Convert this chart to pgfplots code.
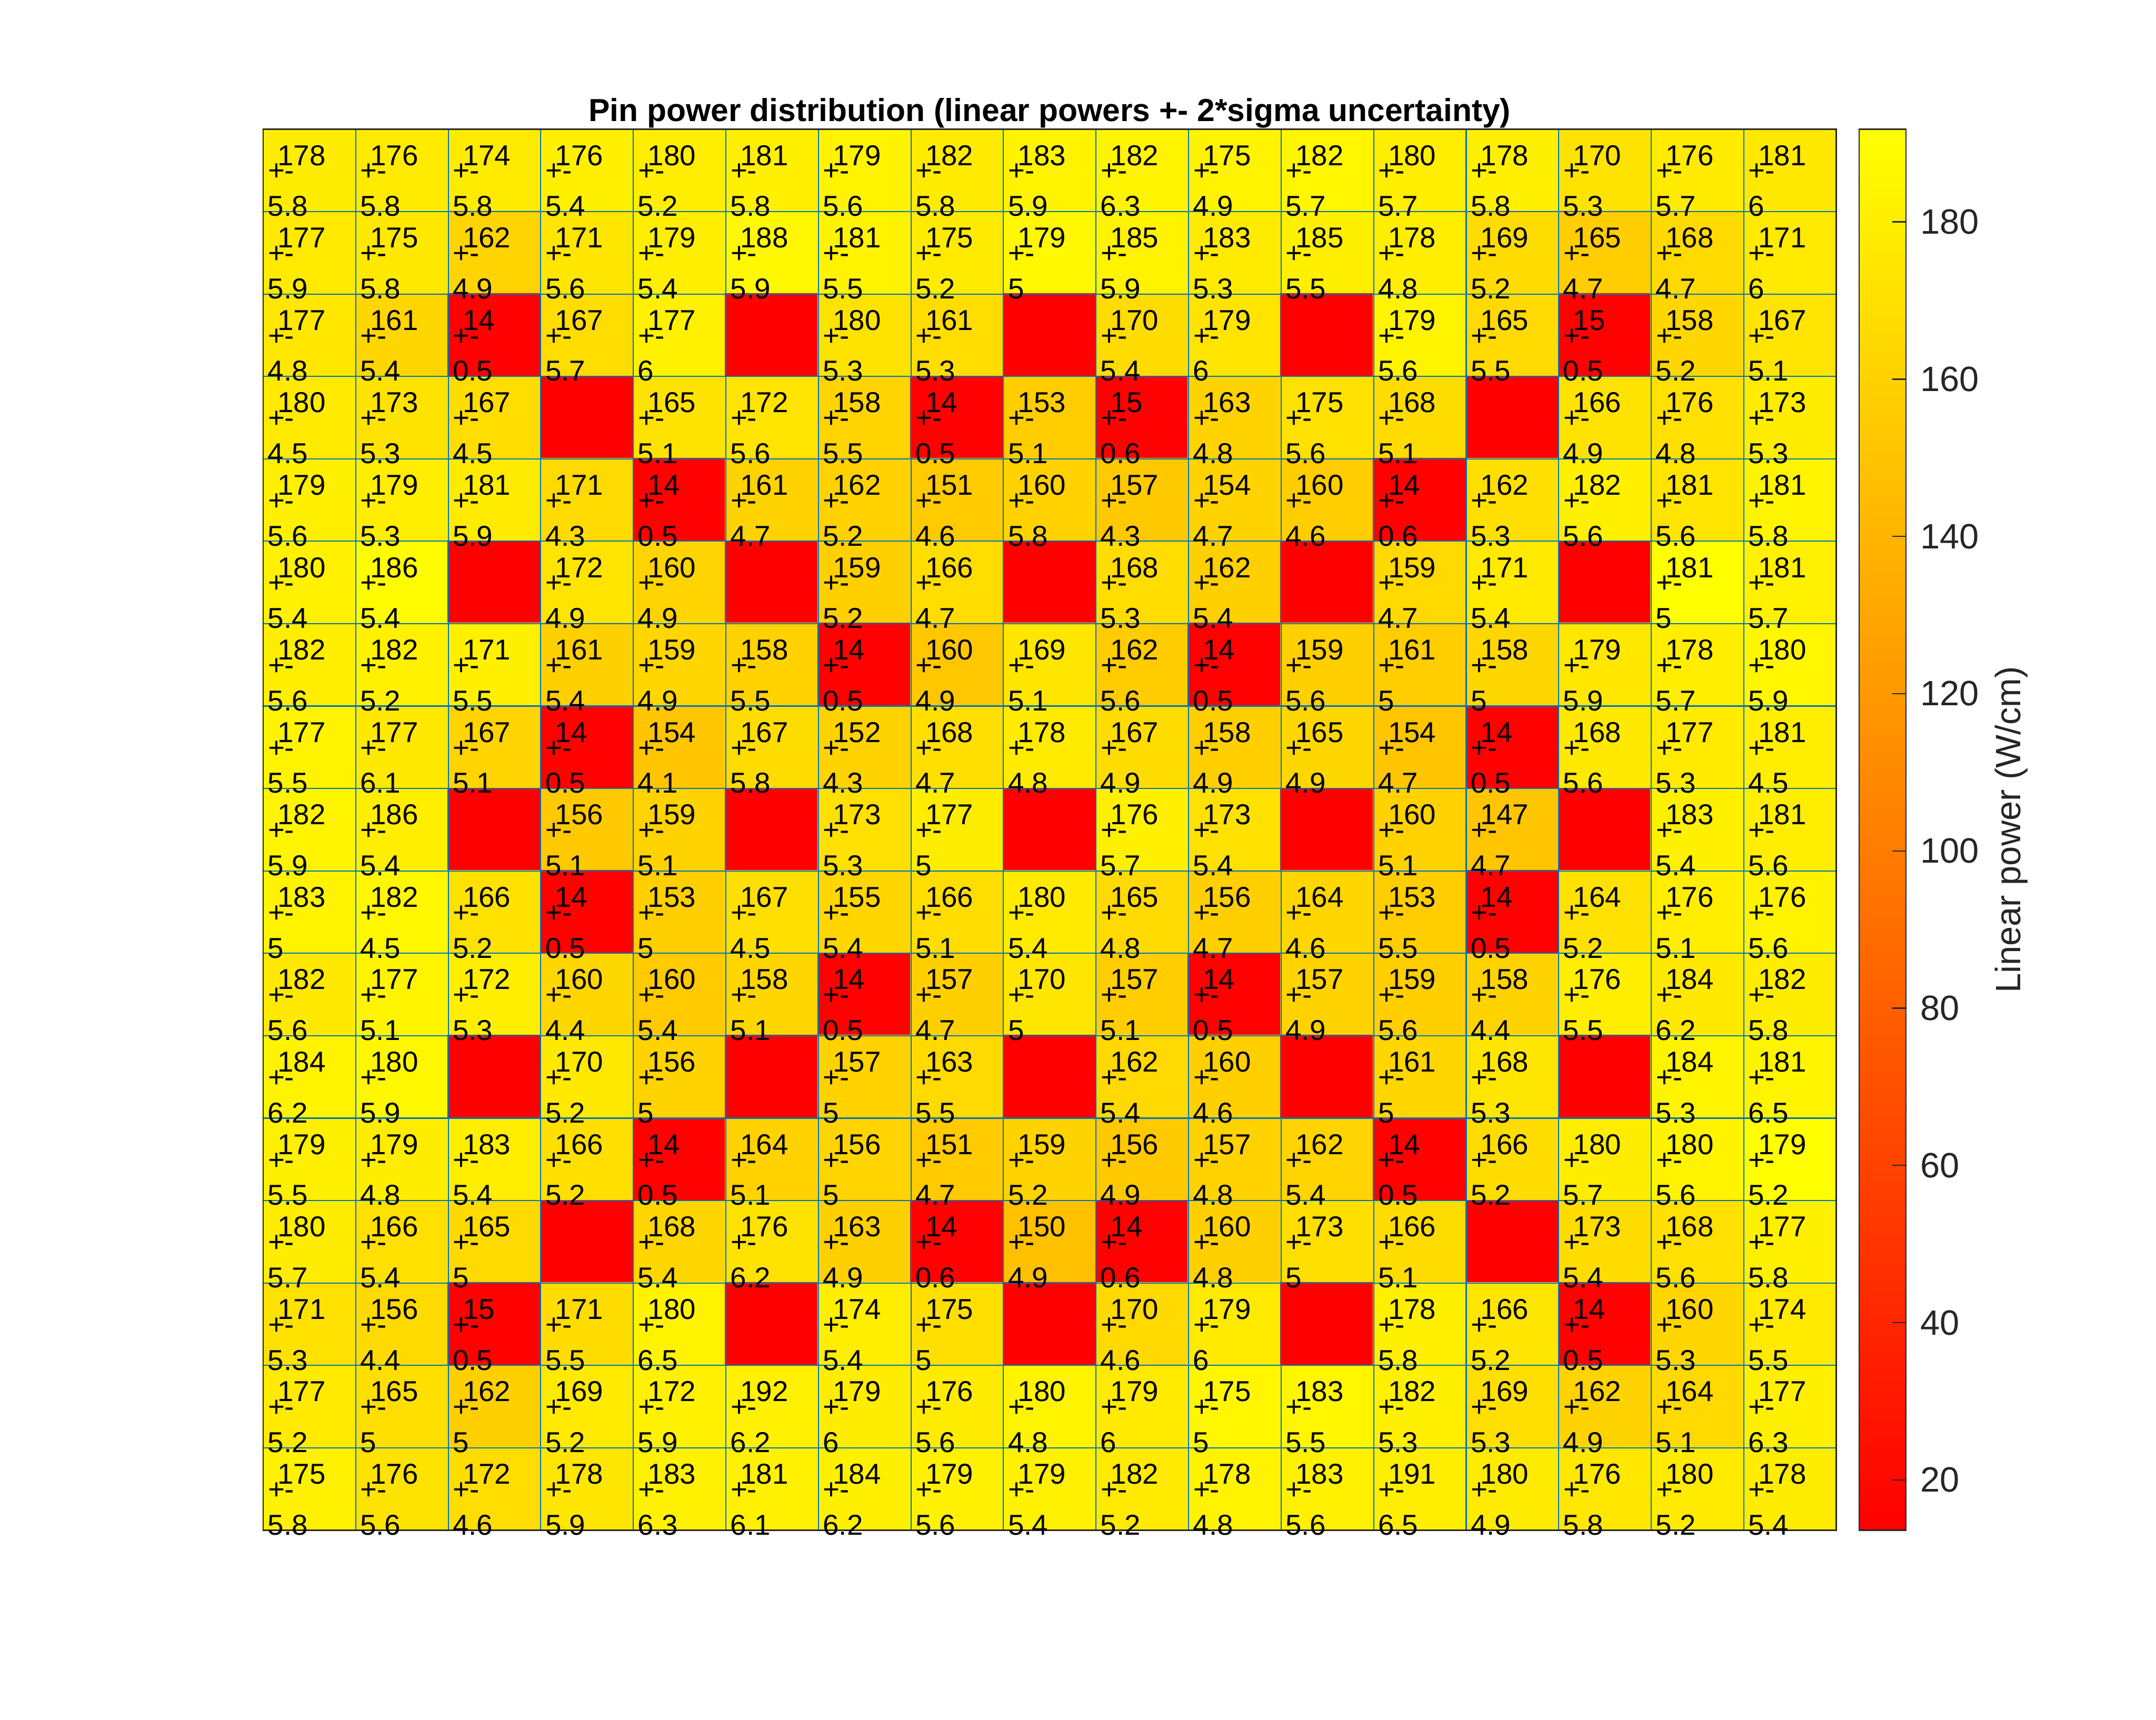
\documentclass[border=0pt]{standalone}
\usepackage{pgfplots}
\pgfplotsset{compat=1.18}
\usepackage{pgfplotstable}
\usepackage{fontspec}
\setmainfont{Liberation Sans}
\definecolor{mlblue}{rgb}{0,0.447,0.741}
\definecolor{axgray}{rgb}{0.15,0.15,0.15}
\newcommand\cellfont{\fontsize{6.95}{8}\selectfont}
\newcommand\tickfont{\fontsize{8.5}{10}\selectfont}
\newcommand\titlefont{\bfseries\fontsize{7.7}{9}\selectfont}
% c = column, r = row (1 = top), v = linear power, u = 2 sigma; u=-1 marks an empty (guide tube) cell
\pgfplotstableread[row sep=\\]{
c r v u\\
1 1 178 5.8\\ 2 1 176 5.8\\ 3 1 174 5.8\\ 4 1 176 5.4\\ 5 1 180 5.2\\ 6 1 181 5.8\\ 7 1 179 5.6\\ 8 1 182 5.8\\ 9 1 183 5.9\\ 10 1 182 6.3\\ 11 1 175 4.9\\ 12 1 182 5.7\\ 13 1 180 5.7\\ 14 1 178 5.8\\ 15 1 170 5.3\\ 16 1 176 5.7\\ 17 1 181 6\\
1 2 177 5.9\\ 2 2 175 5.8\\ 3 2 162 4.9\\ 4 2 171 5.6\\ 5 2 179 5.4\\ 6 2 188 5.9\\ 7 2 181 5.5\\ 8 2 175 5.2\\ 9 2 179 5\\ 10 2 185 5.9\\ 11 2 183 5.3\\ 12 2 185 5.5\\ 13 2 178 4.8\\ 14 2 169 5.2\\ 15 2 165 4.7\\ 16 2 168 4.7\\ 17 2 171 6\\
1 3 177 4.8\\ 2 3 161 5.4\\ 3 3 14 0.5\\ 4 3 167 5.7\\ 5 3 177 6\\ 6 3 13.6 -1\\ 7 3 180 5.3\\ 8 3 161 5.3\\ 9 3 13.6 -1\\ 10 3 170 5.4\\ 11 3 179 6\\ 12 3 13.6 -1\\ 13 3 179 5.6\\ 14 3 165 5.5\\ 15 3 15 0.5\\ 16 3 158 5.2\\ 17 3 167 5.1\\
1 4 180 4.5\\ 2 4 173 5.3\\ 3 4 167 4.5\\ 4 4 13.6 -1\\ 5 4 165 5.1\\ 6 4 172 5.6\\ 7 4 158 5.5\\ 8 4 14 0.5\\ 9 4 153 5.1\\ 10 4 15 0.6\\ 11 4 163 4.8\\ 12 4 175 5.6\\ 13 4 168 5.1\\ 14 4 13.6 -1\\ 15 4 166 4.9\\ 16 4 176 4.8\\ 17 4 173 5.3\\
1 5 179 5.6\\ 2 5 179 5.3\\ 3 5 181 5.9\\ 4 5 171 4.3\\ 5 5 14 0.5\\ 6 5 161 4.7\\ 7 5 162 5.2\\ 8 5 151 4.6\\ 9 5 160 5.8\\ 10 5 157 4.3\\ 11 5 154 4.7\\ 12 5 160 4.6\\ 13 5 14 0.6\\ 14 5 162 5.3\\ 15 5 182 5.6\\ 16 5 181 5.6\\ 17 5 181 5.8\\
1 6 180 5.4\\ 2 6 186 5.4\\ 3 6 13.6 -1\\ 4 6 172 4.9\\ 5 6 160 4.9\\ 6 6 13.6 -1\\ 7 6 159 5.2\\ 8 6 166 4.7\\ 9 6 13.6 -1\\ 10 6 168 5.3\\ 11 6 162 5.4\\ 12 6 13.6 -1\\ 13 6 159 4.7\\ 14 6 171 5.4\\ 15 6 13.6 -1\\ 16 6 181 5\\ 17 6 181 5.7\\
1 7 182 5.6\\ 2 7 182 5.2\\ 3 7 171 5.5\\ 4 7 161 5.4\\ 5 7 159 4.9\\ 6 7 158 5.5\\ 7 7 14 0.5\\ 8 7 160 4.9\\ 9 7 169 5.1\\ 10 7 162 5.6\\ 11 7 14 0.5\\ 12 7 159 5.6\\ 13 7 161 5\\ 14 7 158 5\\ 15 7 179 5.9\\ 16 7 178 5.7\\ 17 7 180 5.9\\
1 8 177 5.5\\ 2 8 177 6.1\\ 3 8 167 5.1\\ 4 8 14 0.5\\ 5 8 154 4.1\\ 6 8 167 5.8\\ 7 8 152 4.3\\ 8 8 168 4.7\\ 9 8 178 4.8\\ 10 8 167 4.9\\ 11 8 158 4.9\\ 12 8 165 4.9\\ 13 8 154 4.7\\ 14 8 14 0.5\\ 15 8 168 5.6\\ 16 8 177 5.3\\ 17 8 181 4.5\\
1 9 182 5.9\\ 2 9 186 5.4\\ 3 9 13.6 -1\\ 4 9 156 5.1\\ 5 9 159 5.1\\ 6 9 13.6 -1\\ 7 9 173 5.3\\ 8 9 177 5\\ 9 9 13.6 -1\\ 10 9 176 5.7\\ 11 9 173 5.4\\ 12 9 13.6 -1\\ 13 9 160 5.1\\ 14 9 147 4.7\\ 15 9 13.6 -1\\ 16 9 183 5.4\\ 17 9 181 5.6\\
1 10 183 5\\ 2 10 182 4.5\\ 3 10 166 5.2\\ 4 10 14 0.5\\ 5 10 153 5\\ 6 10 167 4.5\\ 7 10 155 5.4\\ 8 10 166 5.1\\ 9 10 180 5.4\\ 10 10 165 4.8\\ 11 10 156 4.7\\ 12 10 164 4.6\\ 13 10 153 5.5\\ 14 10 14 0.5\\ 15 10 164 5.2\\ 16 10 176 5.1\\ 17 10 176 5.6\\
1 11 182 5.6\\ 2 11 177 5.1\\ 3 11 172 5.3\\ 4 11 160 4.4\\ 5 11 160 5.4\\ 6 11 158 5.1\\ 7 11 14 0.5\\ 8 11 157 4.7\\ 9 11 170 5\\ 10 11 157 5.1\\ 11 11 14 0.5\\ 12 11 157 4.9\\ 13 11 159 5.6\\ 14 11 158 4.4\\ 15 11 176 5.5\\ 16 11 184 6.2\\ 17 11 182 5.8\\
1 12 184 6.2\\ 2 12 180 5.9\\ 3 12 13.6 -1\\ 4 12 170 5.2\\ 5 12 156 5\\ 6 12 13.6 -1\\ 7 12 157 5\\ 8 12 163 5.5\\ 9 12 13.6 -1\\ 10 12 162 5.4\\ 11 12 160 4.6\\ 12 12 13.6 -1\\ 13 12 161 5\\ 14 12 168 5.3\\ 15 12 13.6 -1\\ 16 12 184 5.3\\ 17 12 181 6.5\\
1 13 179 5.5\\ 2 13 179 4.8\\ 3 13 183 5.4\\ 4 13 166 5.2\\ 5 13 14 0.5\\ 6 13 164 5.1\\ 7 13 156 5\\ 8 13 151 4.7\\ 9 13 159 5.2\\ 10 13 156 4.9\\ 11 13 157 4.8\\ 12 13 162 5.4\\ 13 13 14 0.5\\ 14 13 166 5.2\\ 15 13 180 5.7\\ 16 13 180 5.6\\ 17 13 179 5.2\\
1 14 180 5.7\\ 2 14 166 5.4\\ 3 14 165 5\\ 4 14 13.6 -1\\ 5 14 168 5.4\\ 6 14 176 6.2\\ 7 14 163 4.9\\ 8 14 14 0.6\\ 9 14 150 4.9\\ 10 14 14 0.6\\ 11 14 160 4.8\\ 12 14 173 5\\ 13 14 166 5.1\\ 14 14 13.6 -1\\ 15 14 173 5.4\\ 16 14 168 5.6\\ 17 14 177 5.8\\
1 15 171 5.3\\ 2 15 156 4.4\\ 3 15 15 0.5\\ 4 15 171 5.5\\ 5 15 180 6.5\\ 6 15 13.6 -1\\ 7 15 174 5.4\\ 8 15 175 5\\ 9 15 13.6 -1\\ 10 15 170 4.6\\ 11 15 179 6\\ 12 15 13.6 -1\\ 13 15 178 5.8\\ 14 15 166 5.2\\ 15 15 14 0.5\\ 16 15 160 5.3\\ 17 15 174 5.5\\
1 16 177 5.2\\ 2 16 165 5\\ 3 16 162 5\\ 4 16 169 5.2\\ 5 16 172 5.9\\ 6 16 192 6.2\\ 7 16 179 6\\ 8 16 176 5.6\\ 9 16 180 4.8\\ 10 16 179 6\\ 11 16 175 5\\ 12 16 183 5.5\\ 13 16 182 5.3\\ 14 16 169 5.3\\ 15 16 162 4.9\\ 16 16 164 5.1\\ 17 16 177 6.3\\
1 17 175 5.8\\ 2 17 176 5.6\\ 3 17 172 4.6\\ 4 17 178 5.9\\ 5 17 183 6.3\\ 6 17 181 6.1\\ 7 17 184 6.2\\ 8 17 179 5.6\\ 9 17 179 5.4\\ 10 17 182 5.2\\ 11 17 178 4.8\\ 12 17 183 5.6\\ 13 17 191 6.5\\ 14 17 180 4.9\\ 15 17 176 5.8\\ 16 17 180 5.2\\ 17 17 178 5.4\\
}\pins

\begin{document}
\begin{tikzpicture}
\path[use as bounding box] (-63.57pt,-45.73pt) rectangle (457.23pt,369.67pt);
\begin{axis}[
  at={(0pt,0pt)}, anchor=south west,
  scale only axis, width=380pt, height=338.47pt,
  xmin=0.5, xmax=17.5, ymin=0.5, ymax=17.5, y dir=reverse,
  axis on top, clip=false,
  xtick={0.5,1.5,...,17.5}, ytick={0.5,1.5,...,17.5},
  xticklabels={}, yticklabels={},
  major tick length=0pt,
  grid=major, major grid style={draw=mlblue, line width=0.27pt},
  axis line style={draw=axgray, line width=0.3pt},
  title={Pin power distribution (linear powers +- 2*sigma uncertainty)},
  every axis title/.style={at={(0.5,1)}, anchor=base, yshift=1.87pt, font=\titlefont},
  colormap={autumn}{rgb=(1,0,0) rgb=(1,1,0)},
  point meta min=13.6, point meta max=191.8,
  colorbar,
  colorbar shift/.style={xshift=5.47pt},
  colorbar style={
    at={(parent axis.north east)}, anchor=north west,
    scale only axis, width=11.33pt,
    y dir=normal, grid=none, title={},
    xtick=\empty,
    ytick={20,40,...,180},
    ytick pos=right, yticklabel pos=right,
    ytick align=inside, major tick length=3.3pt,
    tick style={draw=axgray, line width=0.3pt},
    axis line style={draw=axgray, line width=0.3pt},
    yticklabel style={font=\tickfont, text=axgray},
    /pgf/number format/assume math mode=true,
    ylabel={Linear power (W/cm)},
    every axis y label/.style={at={(axis description cs:3.445,0.5)}, rotate=90, anchor=base, font=\tickfont, text=axgray},
  },
]
% cell colours (drawn transposed, as in the reference figure)
\addplot[matrix plot*, mesh/ordering=y varies, mesh/rows=17, mesh/cols=17, point meta=\thisrow{v}]
  table[x=r, y=c] {\pins};
% value
\addplot[black, only marks, mark=*, mark size=0pt, mark options={draw=none,fill=none},
  point meta=explicit symbolic, restrict expr to domain={\thisrow{u}}{0:100},
  nodes near coords, nodes near coords style={anchor=base west, inner sep=0pt, font=\cellfont, text=black}]
  table[x expr=\thisrow{c}-0.3523, y expr=\thisrow{r}-0.0615, meta=v] {\pins};
% +-
\addplot[black, only marks, mark=*, mark size=0pt, mark options={draw=none,fill=none},
  point meta=explicit symbolic, restrict expr to domain={\thisrow{u}}{0:100},
  nodes near coords={+-}, nodes near coords style={anchor=base west, inner sep=0pt, font=\cellfont, text=black}]
  table[x expr=\thisrow{c}-0.4575, y expr=\thisrow{r}+0.1228, meta=v] {\pins};
% uncertainty
\addplot[black, only marks, mark=*, mark size=0pt, mark options={draw=none,fill=none},
  point meta=explicit symbolic, restrict expr to domain={\thisrow{u}}{0:100},
  nodes near coords, nodes near coords style={anchor=base west, inner sep=0pt, font=\cellfont, text=black}]
  table[x expr=\thisrow{c}-0.4597, y expr=\thisrow{r}+0.5563, meta=u] {\pins};
\end{axis}
\end{tikzpicture}
\end{document}
